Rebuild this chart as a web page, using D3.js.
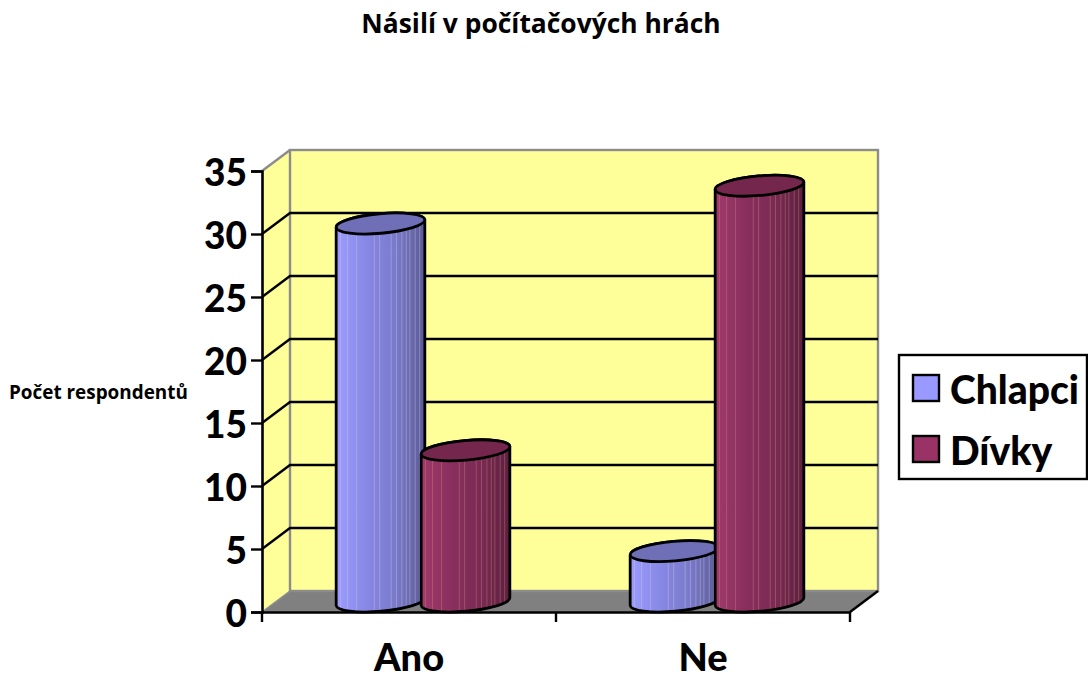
<!DOCTYPE html>
<html>
<head>
<meta charset="utf-8">
<title>Násilí v počítačových hrách</title>
<script src="https://cdn.jsdelivr.net/npm/d3@7"></script>
<style>
html, body { margin: 0; padding: 0; background: #fff; }
svg { display: block; }
text { font-family: Lato, "Open Sans", sans-serif; font-weight: 700; fill: #000; }
</style>
</head>
<body>
<div id="chart"></div>
<script>
// data
var categories = ["Ano", "Ne"];
var seriesNames = ["Chlapci", "Dívky"];
var chlapci = [30, 4];
var divky = [12, 33];
var yTicks = [0, 5, 10, 15, 20, 25, 30, 35];
var stripes = [0.05, 0.13, 0.23, 0.43, 0.49, 0.62, 0.68, 0.74, 0.79, 0.83, 0.89, 0.94];

var W = 1088, H = 679;
var dx = 28, dy = -21;   // depth of the 3d box

var svg = d3.select("#chart").append("svg").attr("width", W).attr("height", H);

var y = d3.scaleLinear().domain([0, 35]).range([612, 171]);
var x = d3.scaleBand().domain(categories).range([262, 850]);
var xs = d3.scaleBand().domain(seriesNames).range([76, 246]).paddingInner(0);

var colors = d3.scaleOrdinal().domain(seriesNames).range(["#9999ff", "#993366"]);
var tops = d3.scaleOrdinal().domain(seriesNames).range(["#6f6fb8", "#74264c"]);
var ramps = {
  "Chlapci": ["#9c9cff", "#8888e6", "#7a7acc", "#5a5a96"],
  "Dívky": ["#a03a6c", "#8a2f5e", "#7a2a54", "#5c2040"]
};

var defs = svg.append("defs");
seriesNames.forEach(function(s, i) {
  var g = defs.append("linearGradient").attr("id", "grad" + i);
  ramps[s].forEach(function(c, j) {
    g.append("stop").attr("offset", j / (ramps[s].length - 1)).attr("stop-color", c);
  });
});

// walls and floor
var x0 = x.range()[0], x1 = x.range()[1], y0 = y(0), yTop = y(35);
svg.append("path")
  .attr("d", "M" + x0 + "," + y0 + "L" + (x0 + dx) + "," + (y0 + dy) + "L" + (x1 + dx) + "," + (y0 + dy) + "L" + x1 + "," + y0 + "Z")
  .attr("fill", "#808080");
svg.append("path")
  .attr("d", "M" + x0 + "," + y0 + "L" + x0 + "," + yTop + "L" + (x0 + dx) + "," + (yTop + dy) + "L" + (x0 + dx) + "," + (y0 + dy) + "Z")
  .attr("fill", "#ffff99");
svg.append("rect")
  .attr("x", x0 + dx).attr("y", yTop + dy)
  .attr("width", x1 - x0).attr("height", y0 - yTop)
  .attr("fill", "#ffff99").attr("stroke", "#8c8c8c").attr("stroke-width", 2.4);
svg.append("line")
  .attr("x1", x0).attr("y1", yTop).attr("x2", x0 + dx).attr("y2", yTop + dy)
  .attr("stroke", "#8c8c8c").attr("stroke-width", 2.4);
svg.append("line")
  .attr("x1", x0).attr("y1", y0).attr("x2", x0 + dx).attr("y2", y0 + dy)
  .attr("stroke", "#8c8c8c").attr("stroke-width", 1.5);
svg.append("line")
  .attr("x1", x1).attr("y1", y0).attr("x2", x1 + dx).attr("y2", y0 + dy)
  .attr("stroke", "#000").attr("stroke-width", 2.4);

// gridlines
var inner = yTicks.filter(function(d) { return d > 0 && d < 35; });
var grid = svg.append("g").attr("fill", "none").attr("stroke", "#000").attr("stroke-width", 2.4);
grid.selectAll("path").data(inner).enter().append("path")
  .attr("d", function(d) {
    return "M" + x0 + "," + y(d) + "L" + (x0 + dx) + "," + (y(d) + dy) + "L" + (x1 + dx) + "," + (y(d) + dy);
  });

// axes
var yAxis = svg.append("g").attr("transform", "translate(" + x0 + ",0)")
  .call(d3.axisLeft(y).tickValues(yTicks).tickSize(11).tickPadding(4));
var xAxis = svg.append("g").attr("transform", "translate(0," + y0 + ")")
  .call(d3.axisBottom(x).tickValues(categories).tickSize(0).tickPadding(32));
[0, 1, 2].forEach(function(i) {
  xAxis.append("line")
    .attr("x1", x0 + i * x.bandwidth()).attr("x2", x0 + i * x.bandwidth())
    .attr("y1", 0).attr("y2", 10)
    .attr("stroke", "#000").attr("stroke-width", 2.4);
});
svg.selectAll(".domain").attr("stroke", "#000").attr("stroke-width", 2.6);
svg.selectAll(".tick line").attr("stroke", "#000").attr("stroke-width", 2.4);
yAxis.selectAll("text").style("font-size", "37px").style("font-family", "Lato").style("font-weight", 900).attr("dy", "0.39em");
xAxis.selectAll("text").style("font-size", "38px").style("font-family", "Lato").style("font-weight", 900).attr("dy", "0.71em");

// cylinders
var rx = xs.bandwidth() / 2 + 2, ry = 9.8, tilt = -5;
var ex = rx * Math.cos(tilt * Math.PI / 180), ey = rx * Math.sin(tilt * Math.PI / 180);
var rows = [];
categories.forEach(function(c, i) {
  rows.push({ cat: c, name: seriesNames[0], idx: 0, i: i, value: chlapci[i] });
  rows.push({ cat: c, name: seriesNames[1], idx: 1, i: i, value: divky[i] });
});

rows.forEach(function(d, n) {
  var cx = x(d.cat) + xs(d.name) + xs.bandwidth() / 2;
  var cyTop = y(d.value) + dy / 2, cyBot = y(0) + dy / 2;
  var arc = "A" + rx + "," + ry + " " + tilt + " 0 0 ";
  var body = "M" + (cx - ex) + "," + (cyTop - ey) +
    "L" + (cx - ex) + "," + (cyBot - ey) +
    arc + (cx + ex) + "," + (cyBot + ey) +
    "L" + (cx + ex) + "," + (cyTop + ey) +
    arc + (cx - ex) + "," + (cyTop - ey) + "Z";
  var g = svg.append("g");
  defs.append("clipPath").attr("id", "clip" + n).append("path").attr("d", body);
  g.append("path").attr("d", body).attr("fill", "url(#grad" + d.idx + ")");
  g.append("g").attr("clip-path", "url(#clip" + n + ")")
    .selectAll("line").data(stripes).enter().append("line")
    .attr("x1", function(f) { return cx - rx + f * 2 * rx; })
    .attr("x2", function(f) { return cx - rx + f * 2 * rx; })
    .attr("y1", cyTop - 15).attr("y2", cyBot + 15)
    .attr("stroke", d.idx == 0 ? "#c8c8d8" : "#c88a70")
    .attr("stroke-opacity", 0.4).attr("stroke-width", 1);
  g.append("path").attr("d", body).attr("fill", "none")
    .attr("stroke", "#000").attr("stroke-width", 2.8).attr("stroke-linejoin", "round");
  g.append("ellipse")
    .attr("transform", "translate(" + cx + "," + cyTop + ") rotate(" + tilt + ")")
    .attr("rx", rx).attr("ry", ry)
    .attr("fill", tops(d.name)).attr("stroke", "#000").attr("stroke-width", 2.8);
});

// title and y label
svg.append("text").attr("x", 541).attr("y", 33).attr("text-anchor", "middle")
  .style("font-family", "Open Sans").style("font-size", "26.4px").text("Násilí v počítačových hrách");
svg.append("text").attr("x", 9).attr("y", 399)
  .style("font-family", "Open Sans").style("font-size", "18.9px").text("Počet respondentů");

// legend
var legend = svg.append("g");
legend.append("rect").attr("x", 899).attr("y", 355).attr("width", 188).attr("height", 124)
  .attr("fill", "#fff").attr("stroke", "#000").attr("stroke-width", 2.4);
var legendY = d3.scalePoint().domain(seriesNames).range([388, 449]);
var items = legend.selectAll("g").data(seriesNames).enter().append("g")
  .attr("transform", function(d) { return "translate(913," + legendY(d) + ")"; });
items.append("rect").attr("x", 0).attr("y", -13).attr("width", 26).attr("height", 26)
  .attr("fill", function(d) { return colors(d); })
  .attr("stroke", "#000").attr("stroke-width", 2.4);
items.append("text").attr("x", 37).attr("y", 2).attr("dy", "0.36em")
  .style("font-size", "39px").style("font-weight", 900).text(function(d) { return d; });
</script>
</body>
</html>
